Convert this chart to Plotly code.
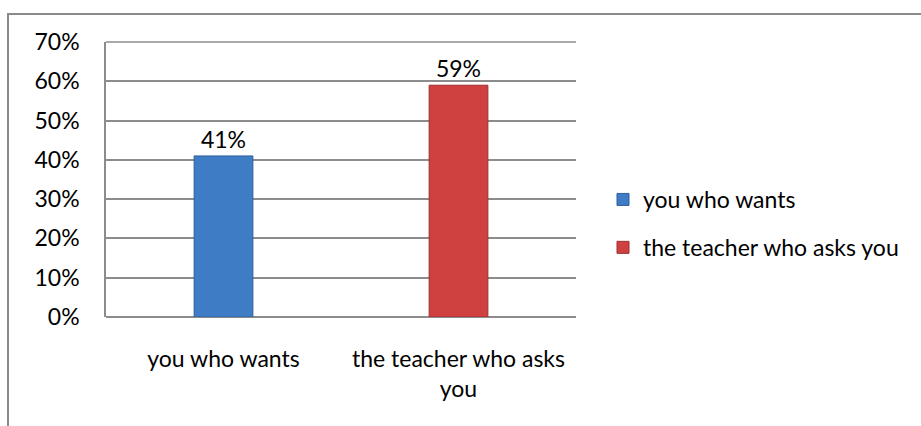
import plotly.graph_objects as go

categories = ["you who wants", "the teacher who asks you"]
values = [0.41, 0.59]
tick_labels = ["you who wants", "the teacher who asks<br>you"]
colors = ["#3F7CC6", "#CF4141"]
line_colors = ["#2E5F9E", "#9E2F2F"]

FONT = "Lato"
FS = 23
W, H = 921, 426
L, R, T, B = 106, 345, 42, 109
pw, ph = W - L - R, H - T - B

fig = go.Figure()
for i, (c, v) in enumerate(zip(categories, values)):
    fig.add_trace(go.Bar(
        x=[c], y=[v], name=c,
        marker=dict(color=colors[i], line=dict(color=line_colors[i], width=1)),
        width=0.25,
        text=[v], texttemplate="%{y:.0%}", textposition="outside",
        textfont=dict(family=FONT, size=FS, color="#000000"),
        cliponaxis=False,
        legendgroup=c,
    ))

def px_x(x):
    return (x - L) / pw

def px_y(y):
    return (H - B - y) / ph

fig.update_layout(
    width=W, height=H,
    margin=dict(l=L, r=R, t=T, b=B),
    paper_bgcolor="white", plot_bgcolor="white",
    barmode="overlay",
    showlegend=True,
    font=dict(family=FONT, size=FS, color="#000000"),
    legend=dict(
        x=px_x(603), y=px_y(178), xanchor="left", yanchor="top",
        font=dict(family=FONT, size=FS, color="#000000"),
        tracegroupgap=15, itemwidth=30,
        bgcolor="rgba(0,0,0,0)",
    ),
    xaxis=dict(
        tickmode="array", tickvals=categories, ticktext=tick_labels,
        showline=False, showgrid=False, ticks="",
        ticklabelstandoff=26,
        tickfont=dict(family=FONT, size=FS),
    ),
    yaxis=dict(
        range=[0, 0.7], dtick=0.1, tickformat=".0%",
        showgrid=True, gridcolor="#8C8C8C", gridwidth=1.5,
        showline=True, linecolor="#8C8C8C", linewidth=1.5,
        zeroline=True, zerolinecolor="#8C8C8C", zerolinewidth=1.5,
        ticks="", ticklabelstandoff=20,
        tickfont=dict(family=FONT, size=FS),
    ),
    shapes=[
        dict(type="rect", xref="paper", yref="paper",
             x0=px_x(8), x1=px_x(935), y0=px_y(440), y1=px_y(14),
             line=dict(color="#8A8A8A", width=2), fillcolor="rgba(0,0,0,0)",
             layer="below"),
        dict(type="line", xref="paper", yref="paper",
             x0=0, x1=1, y0=1, y1=1, line=dict(color="#8C8C8C", width=1.5)),
    ],
)

fig.write_html("out.html", config={"displayModeBar": False})
with open("out.html", "r", encoding="utf-8") as f:
    html = f.read()
html = html.replace("<body>", '<body style="margin:0;padding:0;">', 1)
with open("out.html", "w", encoding="utf-8") as f:
    f.write(html)
